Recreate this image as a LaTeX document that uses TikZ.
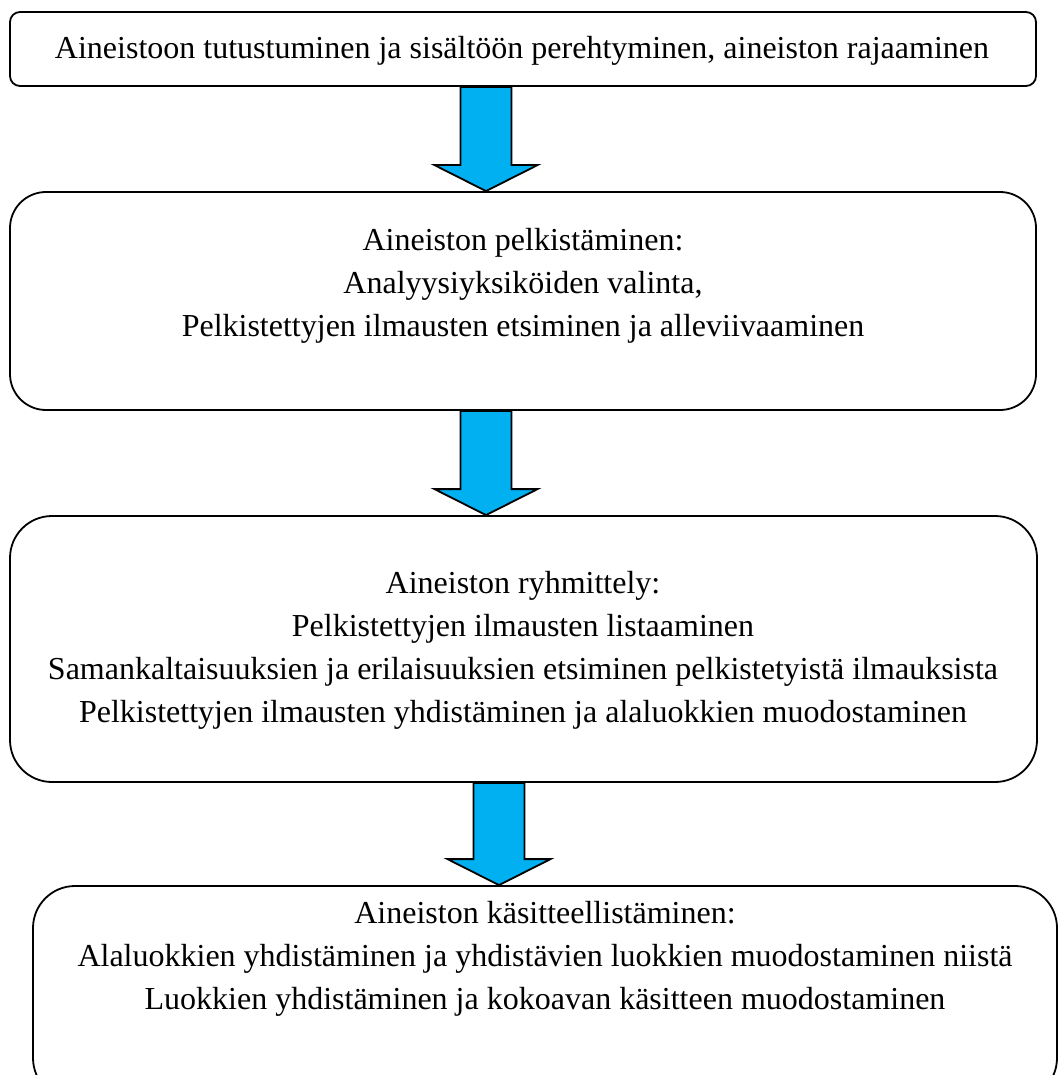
\documentclass[tikz,border=0pt]{standalone}
\usepackage{fontspec}
\setmainfont{Liberation Serif}
\usepackage{tikz}
\usetikzlibrary{calc}
\usepackage{xcolor}
\definecolor{arrowblue}{RGB}{0,176,240}

\begin{document}
\begin{tikzpicture}[x=1pt,y=-1pt,
  box/.style={shape=rectangle,draw=black,line width=1.8pt,inner sep=0pt},
  txt/.style={align=center,inner sep=0pt,
    font=\fontsize{32pt}{43pt}\selectfont},
  blockarrow/.style={draw=black,line width=1.8pt,fill=arrowblue,line join=miter}]
      %\draw[help lines] (0,0) grid[step=50] (1058,1075); % Only for Development
      \clip (0,0) rectangle (1058,1075);
      \useasboundingbox (0,0) rectangle (1058,1075);

      % the four steps
      \node[box,
        rounded corners=10pt,
        minimum width = 1026pt,
        minimum height = 74pt] (b1) at (523,49) {};
      \node[txt] (t1) at (522,51)
        {Aineistoon tutustuminen ja sisältöön perehtyminen, aineiston rajaaminen};

      \node[box,
        rounded corners=36pt,
        minimum width = 1026pt,
        minimum height = 218pt] (b2) at (523,301) {};
      \node[txt] (t2) at (523,286)
        {Aineiston pelkistäminen:\\
         Analyysiyksiköiden valinta,\\
         Pelkistettyjen ilmausten etsiminen ja alleviivaaminen};

      \node[box,
        rounded corners=42pt,
        minimum width = 1027pt,
        minimum height = 266pt] (b3) at (523.5,649) {};
      \node[txt] (t3) at (523,650)
        {Aineiston ryhmittely:\\
         Pelkistettyjen ilmausten listaaminen\\
         Samankaltaisuuksien ja erilaisuuksien etsiminen pelkistetyistä ilmauksista\\
         Pelkistettyjen ilmausten yhdistäminen ja alaluokkien muodostaminen};

      \node[box,
        rounded corners=42pt,
        minimum width = 1024pt,
        minimum height = 214pt] (b4) at (545,993) {};
      \node[txt] (t4) at (545,959)
        {Aineiston käsitteellistäminen:\\
         Alaluokkien yhdistäminen ja yhdistävien luokkien muodostaminen niistä\\
         Luokkien yhdistäminen ja kokoavan käsitteen muodostaminen};

      % block arrows between the steps
      \coordinate (a1) at (486,0);
      \coordinate (a2) at (486,0);
      \coordinate (a3) at (499,0);

      \draw[blockarrow]
        ($(a1 |- b1.south)+(-25.5,0)$) -- ($(a1 |- b1.south)+(25.5,0)$) --
        ($(a1 |- b2.north)+(25.5,-26)$) -- ($(a1 |- b2.north)+(51.5,-26)$) --
        (a1 |- b2.north) -- ($(a1 |- b2.north)+(-51.5,-26)$) --
        ($(a1 |- b2.north)+(-25.5,-26)$) -- cycle;
      \draw[blockarrow]
        ($(a2 |- b2.south)+(-25.5,0)$) -- ($(a2 |- b2.south)+(25.5,0)$) --
        ($(a2 |- b3.north)+(25.5,-26)$) -- ($(a2 |- b3.north)+(51.5,-26)$) --
        (a2 |- b3.north) -- ($(a2 |- b3.north)+(-51.5,-26)$) --
        ($(a2 |- b3.north)+(-25.5,-26)$) -- cycle;
      \draw[blockarrow]
        ($(a3 |- b3.south)+(-25.5,0)$) -- ($(a3 |- b3.south)+(25.5,0)$) --
        ($(a3 |- b4.north)+(25.5,-26)$) -- ($(a3 |- b4.north)+(51.5,-26)$) --
        (a3 |- b4.north) -- ($(a3 |- b4.north)+(-51.5,-26)$) --
        ($(a3 |- b4.north)+(-25.5,-26)$) -- cycle;

    \end{tikzpicture}
\end{document}
